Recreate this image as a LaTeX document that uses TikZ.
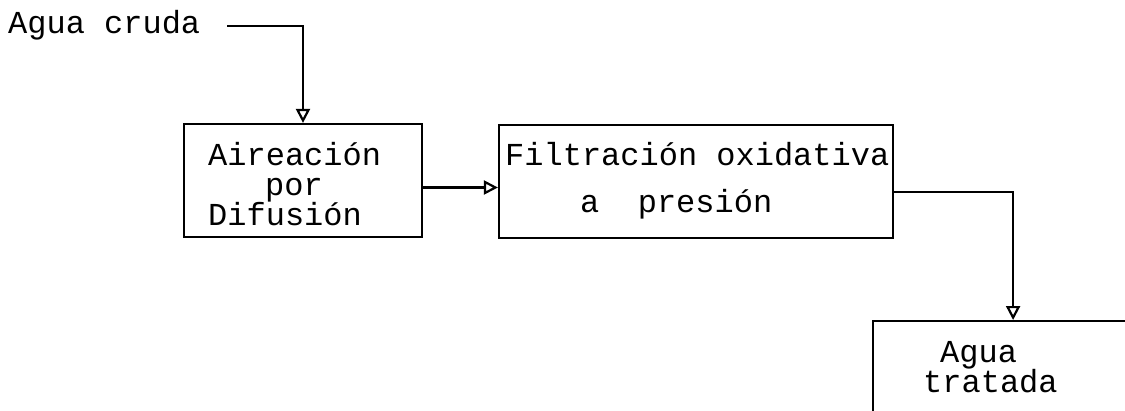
\documentclass[tikz,border=0pt]{standalone}
\usepackage{fontspec}
\newfontfamily\twfont{Liberation Mono}
\usetikzlibrary{arrows.meta}
\begin{document}
\begin{tikzpicture}[x=1pt,y=-1pt,
  lbl/.style={inner sep=0pt,anchor=base west,font=\twfont\fontsize{32}{30}\selectfont},
  boxnode/.style={draw,line width=2.2pt,inner sep=0pt},
  flow/.style={draw,line width=2.2pt,-{Triangle[open,length=14pt,width=14pt]}}]
\useasboundingbox (0,0) rectangle (1125,410);
\fill[white] (0,0) rectangle (1125,410);
\begin{scope}
\clip (0,0) rectangle (1125,410);
% boxes
\node[boxnode,minimum width=238pt,minimum height=113pt] (b1) at (303,180.5) {};
\node[boxnode,minimum width=394pt,minimum height=113pt] (b2) at (696,181.5) {};
\node[boxnode,minimum width=280pt,minimum height=200pt,anchor=north west] (b3) at (872,320) {};
% texts
\node[lbl] (tcruda) at (8,33) {Agua cruda};
\node[lbl] (t1a) at (208,165) {Aireación};
\node[lbl] (t1b) at (265,195) {por};
\node[lbl] (t1c) at (208,225) {Difusión};
\node[lbl] (t2a) at (505,165) {Filtración oxidativa};
\node[lbl] (t2b) at (580,212) {a\ \ presión};
\node[lbl] (t3a) at (940,362) {Agua};
\node[lbl] (t3b) at (923,392) {tratada};
% connectors
\coordinate (c0) at (227,26);
\draw[flow] (c0) -| (b1.north);
\draw[flow] ([yshift=-7pt]b1.east) -- ([yshift=-7pt]b1.east -| b2.west);
\draw[flow] ([yshift=-10.5pt]b2.east) -| (b3.north);
\end{scope}
\end{tikzpicture}
\end{document}
